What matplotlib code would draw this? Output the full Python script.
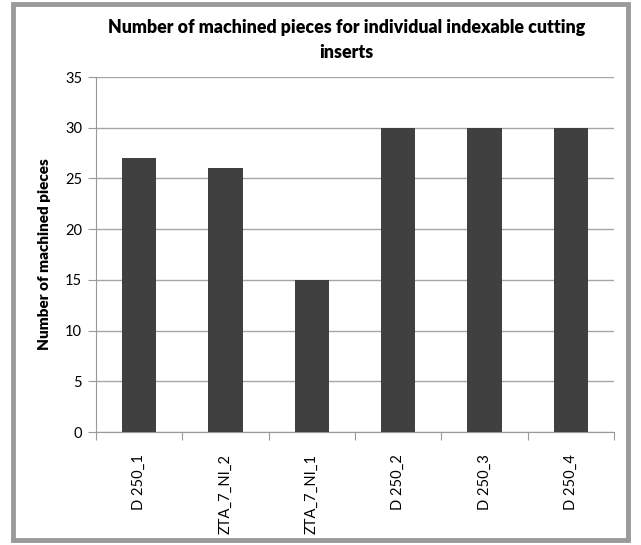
import matplotlib.pyplot as plt
from matplotlib.patches import Rectangle

# Machined piece counts per insert
inserts = ['D 250_1', 'ZTA_7_NI_2', 'ZTA_7_NI_1', 'D 250_2', 'D 250_3', 'D 250_4']
pieces = [27, 26, 15, 30, 30, 30]

plt.rcParams['font.family'] = ['Lato', 'DejaVu Sans']

fig = plt.figure(figsize=(6.41, 5.45), dpi=100)
ax = fig.add_axes([0.1498, 0.2073, 0.8082, 0.6514])

x = list(range(len(inserts)))
ax.bar(x, pieces, width=0.4, color='#404040', zorder=3)

ax.set_xlim(-0.5, len(inserts) - 0.5)
ax.set_ylim(0, 35)
ax.set_yticks(range(0, 36, 5))
ax.yaxis.grid(True, color='#a6a6a6', linewidth=1.0, zorder=0)
ax.tick_params(axis='y', direction='out', length=6, color='#999999',
               labelsize=10.5, pad=4)

# category boundaries carry the tick marks, labels sit under the bars
ax.set_xticks([i - 0.5 for i in range(len(inserts) + 1)])
ax.set_xticklabels([])
ax.set_xticks(x, minor=True)
ax.set_xticklabels(inserts, minor=True, rotation=90, fontsize=10.5)
ax.tick_params(axis='x', which='major', direction='out', length=6, color='#999999')
ax.tick_params(axis='x', which='minor', length=0, pad=16)

for side in ['top', 'right']:
    ax.spines[side].set_visible(False)
for side in ['left', 'bottom']:
    ax.spines[side].set_color('#999999')

ax.set_ylabel('Number of machined pieces', fontsize=11, fontweight='heavy', labelpad=10)
fig.text(0.54, 0.965, 'Number of machined pieces for individual indexable cutting\ninserts',
         ha='center', va='top', fontsize=12.8, fontweight='heavy', linespacing=1.55)

# chart frame
fig.patches.append(Rectangle((0.021, 0.009), 0.958, 0.983, transform=fig.transFigure,
                             fill=False, edgecolor='#9a9a9a', linewidth=3.5))

fig.savefig('out.png', dpi=100)
